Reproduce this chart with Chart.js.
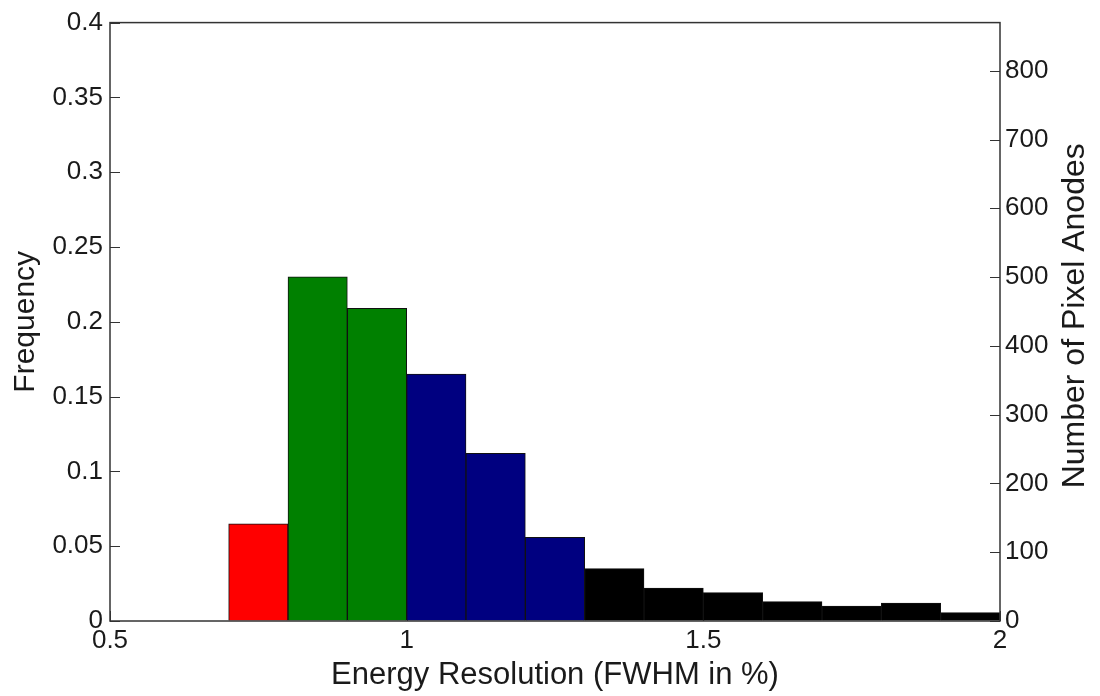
<!DOCTYPE html>
<html>
<head>
<meta charset="utf-8">
<script src="https://cdn.jsdelivr.net/npm/chart.js@4/dist/chart.umd.min.js"></script>
<style>
  body { margin: 0; background: #fff; }
  #wrap { width: 1100px; height: 696px; }
</style>
</head>
<body>
<div id="wrap"><canvas id="hist_chart"></canvas></div>
<script>
// bin centres (FWHM %), bin width 0.1
const bin_centres = [0.75, 0.85, 0.95, 1.05, 1.15, 1.25, 1.35, 1.45, 1.55, 1.65, 1.75, 1.85, 1.95];
// frequency of each bin (left axis)
const frequency = [0.065, 0.230, 0.209, 0.165, 0.112, 0.056, 0.035, 0.022, 0.019, 0.013, 0.010, 0.012, 0.0056];
const bar_colors = ["#ff0000", "#008000", "#008000", "#000080", "#000080", "#000080",
                    "#000000", "#000000", "#000000", "#000000", "#000000", "#000000", "#000000"];
const x_ticks = [0.5, 1, 1.5, 2];
const freq_max = 0.4;
const anodes_max = 870;   // right axis top, same height as 0.4
const x_title = "Energy Resolution (FWHM in %)";
const left_title = "Frequency";
const right_title = "Number of Pixel Anodes";

const font_family = "'Liberation Sans', Arial, sans-serif";
const text_color = "#1a1a1a";
const fmt = v => String(+Number(v).toFixed(3));

// inward tick marks, frame and the right title (reads bottom to top)
const axis_decor = {
    id: 'axis_decor',
    beforeDatasetsDraw(chart) {
        const {ctx, chartArea: a, scales} = chart;
        ctx.save();
        ctx.strokeStyle = "#333";
        ctx.lineWidth = 1;
        scales.y.ticks.forEach(t => {
            const py = Math.round(scales.y.getPixelForValue(t.value)) + 0.5;
            ctx.beginPath(); ctx.moveTo(a.left, py); ctx.lineTo(a.left + 10, py); ctx.stroke();
        });
        scales.y2.ticks.forEach(t => {
            const py = Math.round(scales.y2.getPixelForValue(t.value)) + 0.5;
            ctx.beginPath(); ctx.moveTo(a.right, py); ctx.lineTo(a.right - 10, py); ctx.stroke();
        });
        scales.x.ticks.forEach(t => {
            const px = Math.round(scales.x.getPixelForValue(t.value)) + 0.5;
            ctx.beginPath(); ctx.moveTo(px, a.bottom); ctx.lineTo(px, a.bottom - 10); ctx.stroke();
        });
        ctx.restore();
    },
    afterDatasetsDraw(chart) {
        const {ctx, chartArea: a} = chart;
        ctx.save();
        ctx.strokeStyle = "#333";
        ctx.lineWidth = 1.5;
        ctx.strokeRect(a.left, a.top, a.right - a.left, a.bottom - a.top);
        ctx.fillStyle = text_color;
        ctx.font = "32px " + font_family;
        ctx.textAlign = "center";
        ctx.textBaseline = "middle";
        ctx.translate(a.right + 75, (a.top + a.bottom) / 2 - 6);
        ctx.rotate(-Math.PI / 2);
        ctx.fillText(right_title, 0, 0);
        ctx.restore();
    }
};

const chart = new Chart(document.getElementById("hist_chart").getContext('2d'), {
    type: 'bar',
    data: {
        datasets: [{
            data: bin_centres.map((c, i) => ({x: c, y: frequency[i]})),
            backgroundColor: bar_colors,
            borderColor: "#111",
            borderWidth: 1,
            barPercentage: 1,
            categoryPercentage: 1
        }]
    },
    options: {
        responsive: true,
        maintainAspectRatio: false,
        animation: false,
        layout: { padding: { top: 21, left: 0, right: 0, bottom: 0 } },
        plugins: { legend: { display: false }, tooltip: { enabled: false } },
        scales: {
            x: {
                type: 'linear',
                offset: false,
                min: 0.5,
                max: 2,
                afterBuildTicks: s => { s.ticks = x_ticks.map(v => ({value: v})); },
                afterFit: s => { s.height = 75; },
                ticks: { font: {family: font_family, size: 26}, color: text_color, padding: 4, callback: fmt },
                grid: { drawOnChartArea: false, drawTicks: false, offset: false },
                border: { display: false },
                title: { display: true, text: x_title, font: {family: font_family, size: 31},
                         color: text_color, padding: {top: 2, bottom: 2} }
            },
            y: {
                position: 'left',
                min: 0,
                max: freq_max,
                afterFit: s => { s.width = 110; },
                ticks: { stepSize: 0.05, font: {family: font_family, size: 26}, color: text_color, padding: 7, callback: fmt },
                grid: { drawOnChartArea: false, drawTicks: false },
                border: { display: false },
                title: { display: true, text: left_title, font: {family: font_family, size: 30},
                         color: text_color, padding: {top: 8, bottom: 0} }
            },
            y2: {
                position: 'right',
                min: 0,
                max: anodes_max,
                afterFit: s => { s.width = 100; },
                afterBuildTicks: s => { s.ticks = s.ticks.filter(t => t.value % 100 === 0); },
                ticks: { stepSize: 100, font: {family: font_family, size: 26}, color: text_color, padding: 5, callback: fmt },
                grid: { drawOnChartArea: false, drawTicks: false },
                border: { display: false }
            }
        }
    },
    plugins: [axis_decor]
});
</script>
</body>
</html>
